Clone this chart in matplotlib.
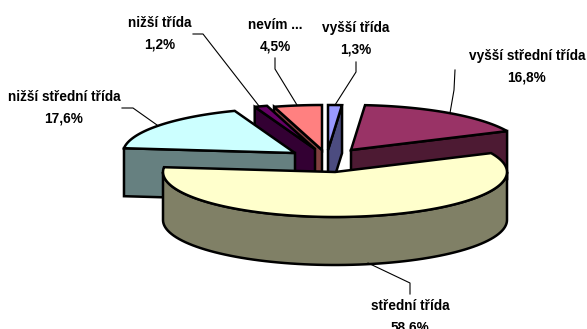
import numpy as np
import matplotlib
matplotlib.use("Agg")
import matplotlib.pyplot as plt
from matplotlib.patches import Polygon

categories = ["vyšší třída", "vyšší střední třída", "střední třída",
              "nižší střední třída", "nižší třída", "nevím ..."]
values = [1.3, 16.8, 58.6, 17.6, 1.2, 4.5]

top_colors = ["#9999FF", "#993366", "#FFFFCC", "#CCFFFF", "#660066", "#FF8080"]
side_colors = ["#4C4C80", "#4D1A33", "#808066", "#668080", "#330033", "#804040"]
apexes = [(328, 150), (351, 150), (335, 172), (295, 153), (315, 149), (322, 150)]
label_pos = [(356, 38.5), (527, 67), (410, 316.5), (64, 108), (160, 33.5), (275, 36)]
leaders = [
    [(356, 62), (356, 72), (335, 105)],
    [(455, 70), (454, 90), (450, 113)],
    [(410, 294), (410, 283), (368, 263)],
    [(122, 108), (133, 108), (157, 125)],
    [(193, 34), (203, 34), (259, 106)],
    [(275, 58), (275, 69), (297, 105)],
]
draw_order = [5, 1, 0, 4, 3, 2]

A, B, DEPTH = 172, 45, 48
LW = 1.8

fig = plt.figure(figsize=(5.87, 3.29), dpi=100)
ax = fig.add_axes([0, 0, 1, 1])
ax.set_xlim(0, 587)
ax.set_ylim(329, 0)
ax.axis("off")


def pt(apex, theta):
    t = np.radians(theta)
    return apex[0] + A * np.sin(t), apex[1] - B * np.cos(t)


def face(points, color, z):
    ax.add_patch(Polygon(points, closed=True, facecolor=color, edgecolor="black",
                         linewidth=LW, joinstyle="miter", zorder=z))


cum = np.concatenate([[0], np.cumsum(values)]) / np.sum(values) * 360
z = 2
for i in draw_order:
    t1, t2 = cum[i], cum[i + 1]
    ap = apexes[i]
    side = side_colors[i]
    down = lambda p: (p[0], p[1] + DEPTH)
    if 180 < t1 < 360:
        p = pt(ap, t1)
        face([p, ap, down(ap), down(p)], side, z)
        z += 1
    if 0 < t2 < 180:
        p = pt(ap, t2)
        face([p, ap, down(ap), down(p)], side, z)
        z += 1
    lo, hi = max(t1, 90), min(t2, 270)
    if lo < hi:
        arc = [pt(ap, t) for t in np.linspace(lo, hi, 80)]
        face(arc + [down(p) for p in arc[::-1]], side, z)
        z += 1
    arc = [pt(ap, t) for t in np.linspace(t1, t2, 120)]
    face([ap] + arc, top_colors[i], z)
    z += 1

for line in leaders:
    xs, ys = zip(*line)
    ax.plot(xs, ys, color="black", lw=0.8, zorder=50, solid_joinstyle="miter")

for cat, val, (x, y) in zip(categories, values, label_pos):
    txt = f"{cat}\n{val:.1f}%".replace(".", ",") if "..." not in cat else f"{cat}\n{str(val).replace('.', ',')}%"
    ax.text(x, y, txt, ha="center", va="center", family="Liberation Sans",
            fontweight="bold", fontsize=9.8, linespacing=1.67, color="black",
            zorder=60, clip_on=False)

fig.savefig("out.png", dpi=100)
